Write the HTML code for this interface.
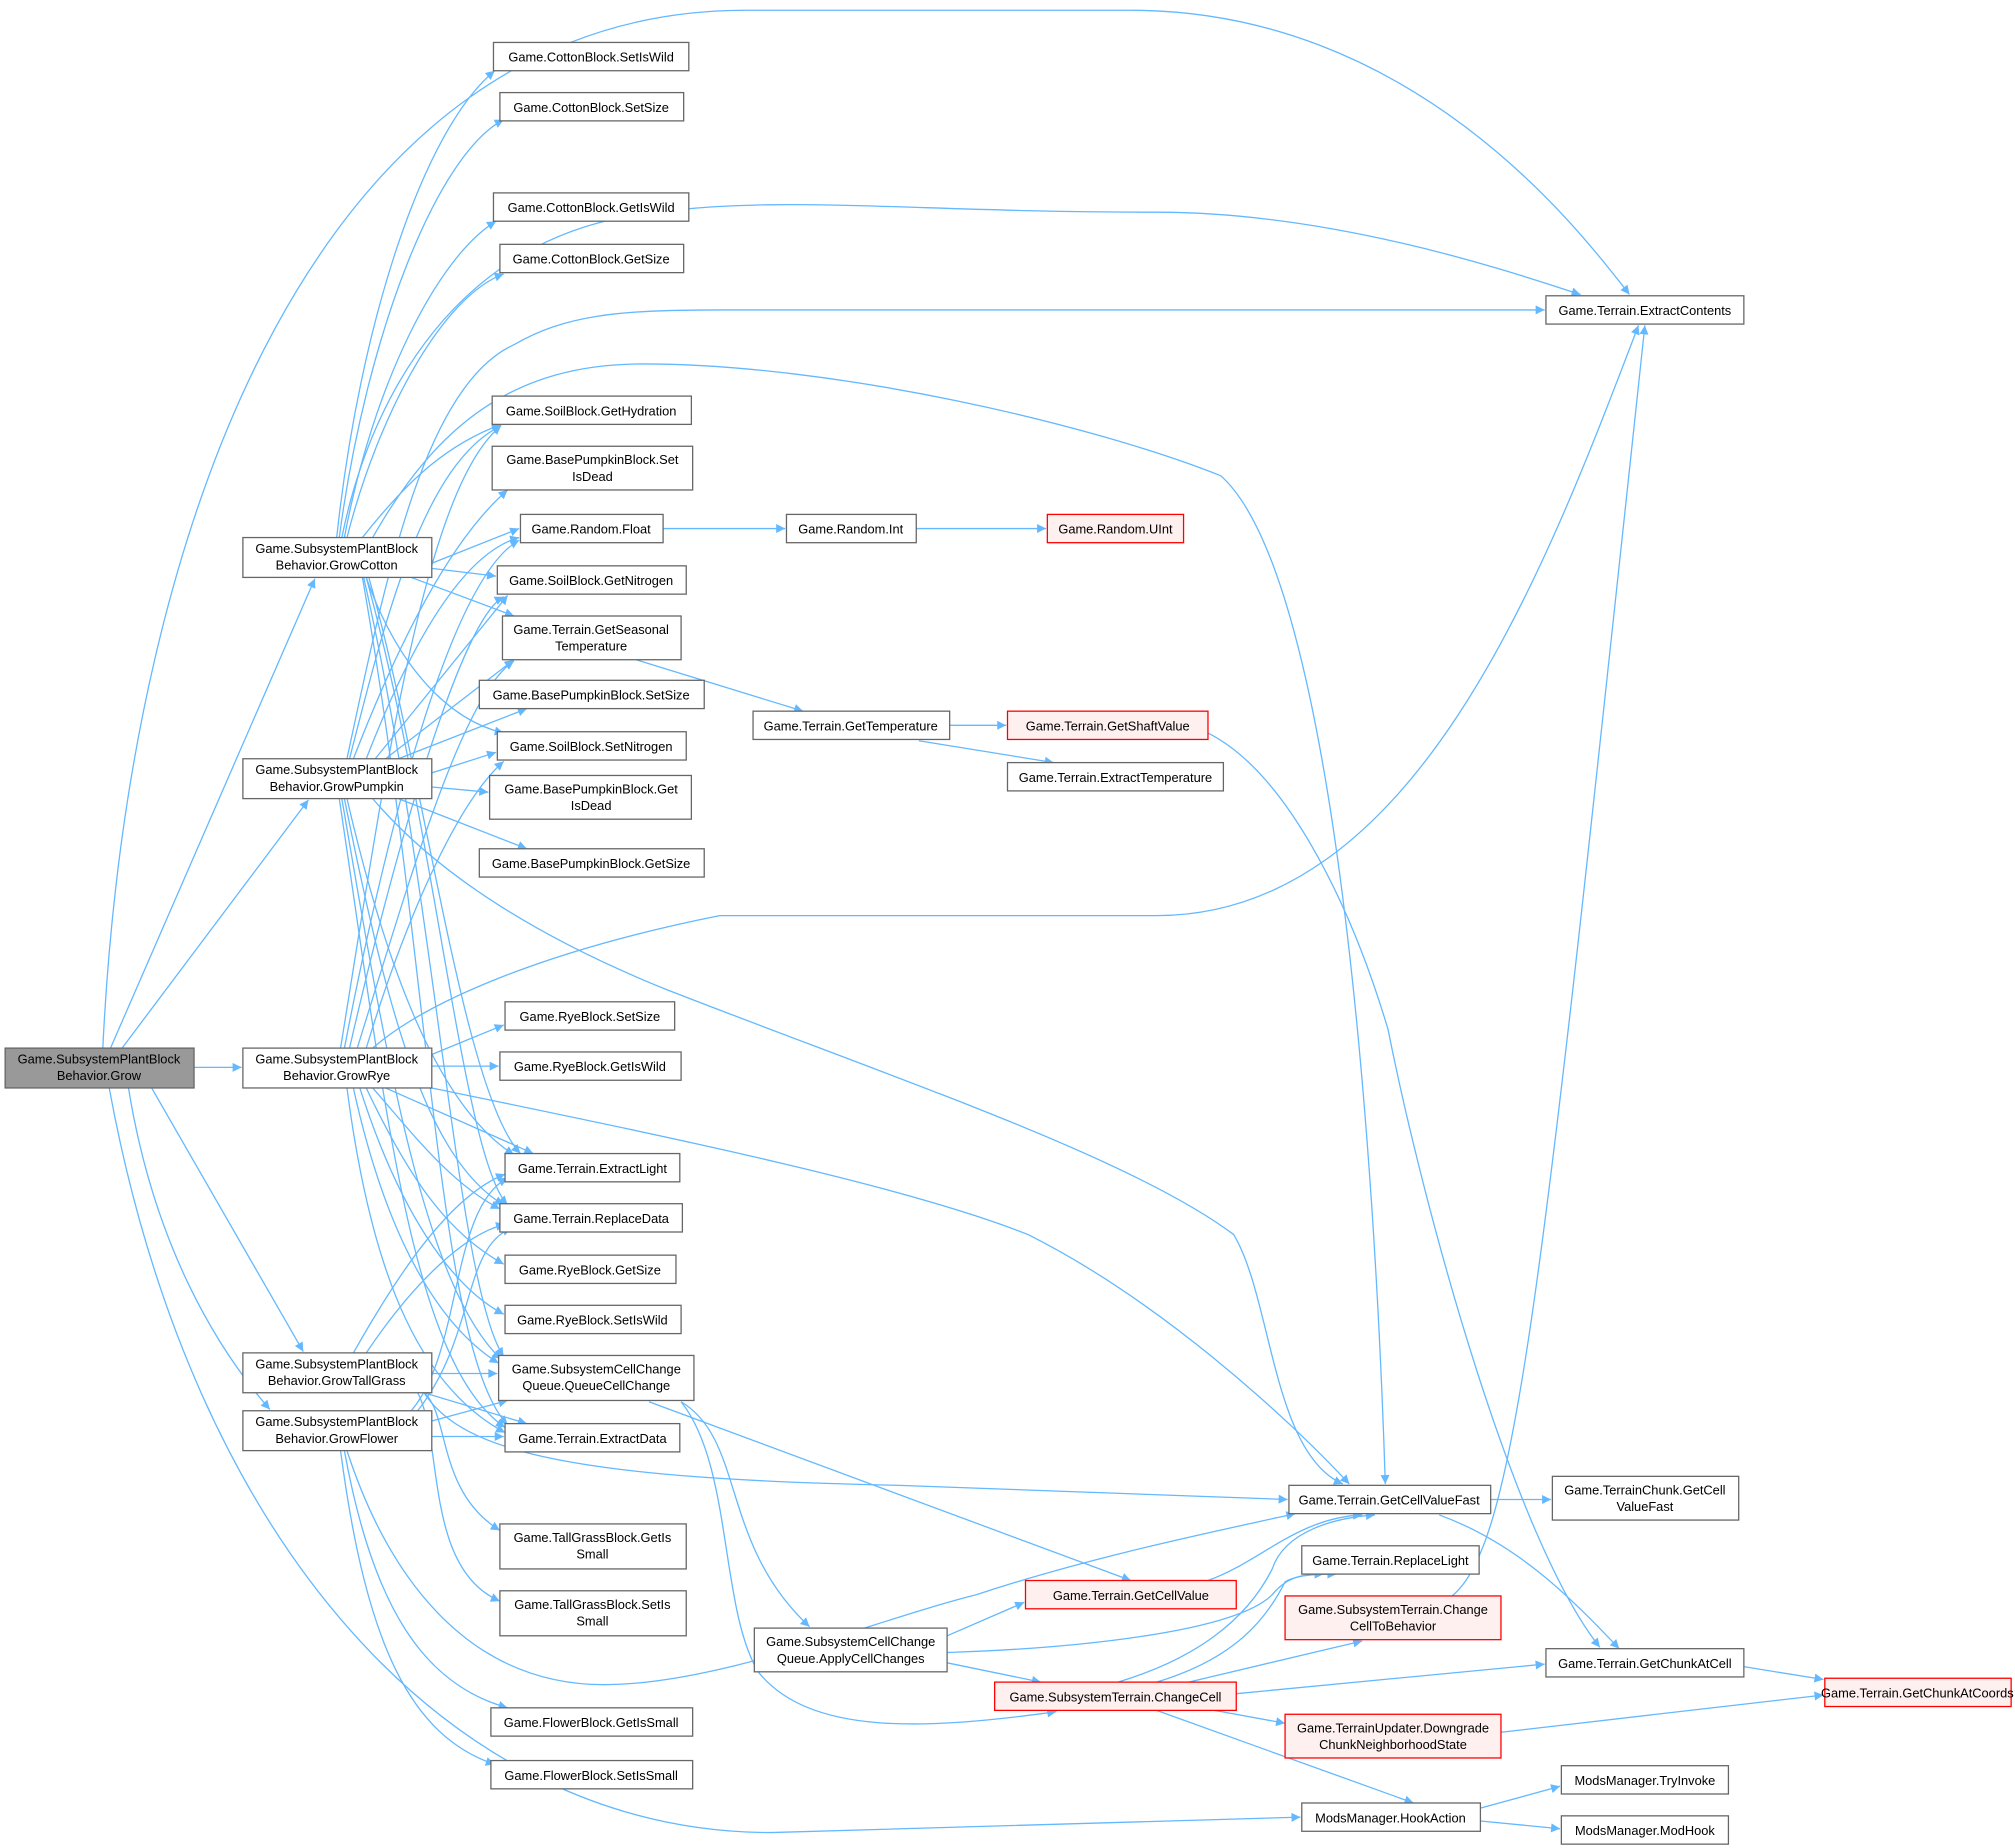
<!DOCTYPE html>
<html><head><meta charset="utf-8">
<style>
html,body{margin:0;padding:0;background:#fff;}
svg{display:block;}
text{font-family:"Liberation Sans",Arial,sans-serif;font-size:10px;fill:#000;text-anchor:middle;}
.e{fill:none;stroke:#63b8ff;stroke-width:1;marker-end:url(#a);}
.n{fill:#fff;stroke:#666;stroke-width:1;}
.r{fill:#fff0f0;stroke:#ff0000;stroke-width:1;}
.g{fill:#999;stroke:#666;stroke-width:1;}
</style></head><body>
<svg width="2015" height="1848" viewBox="0 0 1568 1437" preserveAspectRatio="none" xmlns="http://www.w3.org/2000/svg">
<defs><marker id="a" viewBox="0 0 10 10" refX="10" refY="5" markerWidth="10" markerHeight="7" markerUnits="userSpaceOnUse" orient="auto"><path d="M0,0 L10,5 L0,10 z" fill="#63b8ff"/></marker></defs>

<!-- edges from Grow -->
<path class="e" d="M80,815 C100,400 250,8 580,8 L880,8 C1100,8 1230,180 1268,229"/>
<path class="e" d="M86,815 L245,450"/>
<path class="e" d="M95,815 L240,622"/>
<path class="e" d="M151,830 L188,830"/>
<path class="e" d="M118,846 L236,1051"/>
<path class="e" d="M100,846 C120,970 170,1050 210,1096"/>
<path class="e" d="M85,846 C150,1200 350,1425 600,1425 L1012,1413"/>

<!-- GrowCotton -->
<path class="e" d="M262,418 C280,250 330,100 385,55"/>
<path class="e" d="M264,418 C285,260 340,120 392,93"/>
<path class="e" d="M266,418 C290,300 360,190 490,168 C600,150 700,165 900,165 C1050,165 1200,220 1230,229"/>
<path class="e" d="M268,418 C290,300 340,200 386,172"/>
<path class="e" d="M270,418 C295,320 345,230 392,213"/>
<path class="e" d="M282,418 C320,370 350,345 390,330"/>
<path class="e" d="M290,418 C340,330 400,283 500,283 C650,283 850,330 950,370 C1040,450 1070,900 1078,1154"/>
<path class="e" d="M336,438 L404,411"/>
<path class="e" d="M336,442 L386,448"/>
<path class="e" d="M320,449 L400,479"/>
<path class="e" d="M285,449 C310,520 350,560 392,570"/>
<path class="e" d="M287,449 C330,600 360,850 405,897"/>
<path class="e" d="M285,449 C340,650 360,900 395,937"/>
<path class="e" d="M283,449 C340,700 355,1000 392,1055"/>
<path class="e" d="M282,449 C335,750 340,1050 395,1108"/>

<!-- GrowPumpkin -->
<path class="e" d="M270,590 C300,450 330,300 400,268 C440,245 480,241 560,241 L1202,241"/>
<path class="e" d="M272,590 C300,480 330,360 390,331"/>
<path class="e" d="M275,590 C310,500 350,420 395,381"/>
<path class="e" d="M285,590 C320,500 360,430 404,418"/>
<path class="e" d="M292,590 L395,463"/>
<path class="e" d="M300,590 L400,513"/>
<path class="e" d="M310,590 L410,551"/>
<path class="e" d="M336,601 L386,585"/>
<path class="e" d="M336,612 L380,616"/>
<path class="e" d="M310,621 L410,660"/>
<path class="e" d="M290,621 C340,680 420,730 520,770 C700,840 880,900 960,960 C990,1010 990,1130 1045,1154"/>
<path class="e" d="M270,621 C300,750 340,860 400,898"/>
<path class="e" d="M268,621 C300,780 330,900 392,937"/>
<path class="e" d="M266,621 C300,820 330,1000 390,1057"/>
<path class="e" d="M264,621 C300,860 320,1060 393,1110"/>

<!-- GrowRye -->
<path class="e" d="M290,815 C330,780 420,740 560,712 L900,712 C1100,712 1200,450 1275,253"/>
<path class="e" d="M265,815 C300,600 330,380 390,331"/>
<path class="e" d="M268,815 C300,650 350,450 404,420"/>
<path class="e" d="M272,815 C310,650 360,480 392,464"/>
<path class="e" d="M278,815 C320,680 360,540 400,514"/>
<path class="e" d="M285,815 C320,700 360,620 392,592"/>
<path class="e" d="M336,820 L392,797"/>
<path class="e" d="M336,829 L388,829"/>
<path class="e" d="M300,846 L415,897"/>
<path class="e" d="M290,846 C320,880 350,920 389,940"/>
<path class="e" d="M285,846 C320,920 350,960 392,983"/>
<path class="e" d="M280,846 C310,940 350,1000 392,1022"/>
<path class="e" d="M275,846 C300,960 340,1030 388,1060"/>
<path class="e" d="M270,846 C290,1000 330,1080 393,1114"/>
<path class="e" d="M336,846 C500,880 700,920 800,960 C900,1010 1000,1100 1050,1154"/>

<!-- GrowTallGrass -->
<path class="e" d="M275,1052 C310,990 350,930 393,913"/>
<path class="e" d="M285,1052 C320,1000 360,960 393,952"/>
<path class="e" d="M336,1068 L387,1068"/>
<path class="e" d="M330,1083 L410,1107"/>
<path class="e" d="M330,1083 C350,1100 340,1160 389,1190"/>
<path class="e" d="M325,1083 C345,1120 330,1220 389,1245"/>
<path class="e" d="M330,1083 C360,1130 450,1150 700,1155 L1002,1166"/>

<!-- GrowFlower -->
<path class="e" d="M320,1097 C360,1050 350,940 395,916"/>
<path class="e" d="M325,1097 C370,1040 360,970 398,955"/>
<path class="e" d="M336,1105 L395,1089"/>
<path class="e" d="M336,1117 L392,1117"/>
<path class="e" d="M268,1128 C290,1250 330,1310 395,1328"/>
<path class="e" d="M265,1128 C285,1280 320,1350 385,1372"/>
<path class="e" d="M270,1128 C300,1220 360,1310 470,1310 C560,1310 680,1260 760,1240 C850,1210 950,1190 1008,1177"/>

<!-- right side -->
<path class="e" d="M516,411 L611,411"/>
<path class="e" d="M713,411 L814,411"/>
<path class="e" d="M495,513 L625,553"/>
<path class="e" d="M739,564 L783,564"/>
<path class="e" d="M715,576 L820,593"/>
<path class="e" d="M940,570 C1000,600 1050,700 1080,800 C1110,950 1180,1200 1245,1281"/>
<path class="e" d="M505,1090 L880,1229"/>
<path class="e" d="M530,1090 C580,1120 560,1200 630,1265"/>
<path class="e" d="M530,1090 C570,1140 560,1250 590,1300 C630,1350 720,1345 822,1331"/>
<path class="e" d="M737,1272 L797,1246"/>
<path class="e" d="M737,1285 C830,1282 960,1270 990,1240 C1000,1228 1010,1224 1030,1224"/>
<path class="e" d="M737,1293 L810,1308"/>
<path class="e" d="M940,1229 C980,1215 1010,1180 1060,1178"/>
<path class="e" d="M870,1308 C930,1290 970,1260 990,1220 C1000,1190 1040,1180 1070,1178"/>
<path class="e" d="M900,1308 C960,1290 985,1260 1000,1230 C1010,1224 1030,1224 1040,1224"/>
<path class="e" d="M925,1308 L1060,1276"/>
<path class="e" d="M962,1317 L1202,1294"/>
<path class="e" d="M945,1330 L1000,1340"/>
<path class="e" d="M900,1330 L1100,1402"/>
<path class="e" d="M1130,1241 C1180,1200 1200,1000 1280,253"/>
<path class="e" d="M1160,1166 L1207,1166"/>
<path class="e" d="M1120,1178 C1180,1200 1220,1240 1260,1282"/>
<path class="e" d="M1357,1296 L1419,1306"/>
<path class="e" d="M1168,1347 L1419,1318"/>
<path class="e" d="M1152,1406 L1214,1389"/>
<path class="e" d="M1152,1416 L1214,1422"/>

<!-- nodes -->
<rect class="g" x="4" y="815" width="147" height="31"/><text x="77" y="827">Game.SubsystemPlantBlock</text><text x="77" y="840">Behavior.Grow</text>
<rect class="n" x="189" y="418" width="147" height="31"/><text x="262" y="430">Game.SubsystemPlantBlock</text><text x="262" y="443">Behavior.GrowCotton</text>
<rect class="n" x="189" y="590" width="147" height="31"/><text x="262" y="602">Game.SubsystemPlantBlock</text><text x="262" y="615">Behavior.GrowPumpkin</text>
<rect class="n" x="189" y="815" width="147" height="31"/><text x="262" y="827">Game.SubsystemPlantBlock</text><text x="262" y="840">Behavior.GrowRye</text>
<rect class="n" x="189" y="1052" width="147" height="31"/><text x="262" y="1064">Game.SubsystemPlantBlock</text><text x="262" y="1077">Behavior.GrowTallGrass</text>
<rect class="n" x="189" y="1097" width="147" height="31"/><text x="262" y="1109">Game.SubsystemPlantBlock</text><text x="262" y="1122">Behavior.GrowFlower</text>

<rect class="n" x="384" y="33" width="152" height="22"/><text x="460" y="48">Game.CottonBlock.SetIsWild</text>
<rect class="n" x="389" y="72" width="143" height="22"/><text x="460" y="87">Game.CottonBlock.SetSize</text>
<rect class="n" x="384" y="150" width="152" height="22"/><text x="460" y="165">Game.CottonBlock.GetIsWild</text>
<rect class="n" x="389" y="190" width="143" height="22"/><text x="460" y="205">Game.CottonBlock.GetSize</text>
<rect class="n" x="383" y="308" width="155" height="22"/><text x="460" y="323">Game.SoilBlock.GetHydration</text>
<rect class="n" x="383" y="347" width="156" height="34"/><text x="461" y="361">Game.BasePumpkinBlock.Set</text><text x="461" y="374">IsDead</text>
<rect class="n" x="405" y="400" width="111" height="22"/><text x="460" y="415">Game.Random.Float</text>
<rect class="n" x="387" y="440" width="147" height="22"/><text x="460" y="455">Game.SoilBlock.GetNitrogen</text>
<rect class="n" x="391" y="479" width="139" height="34"/><text x="460" y="493">Game.Terrain.GetSeasonal</text><text x="460" y="506">Temperature</text>
<rect class="n" x="373" y="529" width="175" height="22"/><text x="460" y="544">Game.BasePumpkinBlock.SetSize</text>
<rect class="n" x="387" y="569" width="147" height="22"/><text x="460" y="584">Game.SoilBlock.SetNitrogen</text>
<rect class="n" x="381" y="603" width="157" height="34"/><text x="460" y="617">Game.BasePumpkinBlock.Get</text><text x="460" y="630">IsDead</text>
<rect class="n" x="373" y="660" width="175" height="22"/><text x="460" y="675">Game.BasePumpkinBlock.GetSize</text>
<rect class="n" x="393" y="779" width="132" height="22"/><text x="459" y="794">Game.RyeBlock.SetSize</text>
<rect class="n" x="389" y="818" width="141" height="22"/><text x="459" y="833">Game.RyeBlock.GetIsWild</text>
<rect class="n" x="393" y="897" width="136" height="22"/><text x="461" y="912">Game.Terrain.ExtractLight</text>
<rect class="n" x="389" y="936" width="142" height="22"/><text x="460" y="951">Game.Terrain.ReplaceData</text>
<rect class="n" x="393" y="976" width="133" height="22"/><text x="459" y="991">Game.RyeBlock.GetSize</text>
<rect class="n" x="393" y="1015" width="137" height="22"/><text x="461" y="1030">Game.RyeBlock.SetIsWild</text>
<rect class="n" x="388" y="1054" width="152" height="35"/><text x="464" y="1068">Game.SubsystemCellChange</text><text x="464" y="1081">Queue.QueueCellChange</text>
<rect class="n" x="393" y="1107" width="136" height="22"/><text x="461" y="1122">Game.Terrain.ExtractData</text>
<rect class="n" x="389" y="1185" width="145" height="35"/><text x="461" y="1199">Game.TallGrassBlock.GetIs</text><text x="461" y="1212">Small</text>
<rect class="n" x="389" y="1237" width="145" height="35"/><text x="461" y="1251">Game.TallGrassBlock.SetIs</text><text x="461" y="1264">Small</text>
<rect class="n" x="382" y="1328" width="157" height="22"/><text x="460" y="1343">Game.FlowerBlock.GetIsSmall</text>
<rect class="n" x="382" y="1369" width="157" height="22"/><text x="460" y="1384">Game.FlowerBlock.SetIsSmall</text>

<rect class="n" x="1203" y="230" width="154" height="22"/><text x="1280" y="245">Game.Terrain.ExtractContents</text>
<rect class="n" x="612" y="400" width="101" height="22"/><text x="662" y="415">Game.Random.Int</text>
<rect class="r" x="815" y="400" width="106" height="22"/><text x="868" y="415">Game.Random.UInt</text>
<rect class="n" x="586" y="553" width="153" height="22"/><text x="662" y="568">Game.Terrain.GetTemperature</text>
<rect class="r" x="784" y="553" width="156" height="22"/><text x="862" y="568">Game.Terrain.GetShaftValue</text>
<rect class="n" x="784" y="593" width="168" height="22"/><text x="868" y="608">Game.Terrain.ExtractTemperature</text>
<rect class="n" x="1003" y="1155" width="157" height="22"/><text x="1081" y="1170">Game.Terrain.GetCellValueFast</text>
<rect class="n" x="1208" y="1148" width="145" height="34"/><text x="1280" y="1162">Game.TerrainChunk.GetCell</text><text x="1280" y="1175">ValueFast</text>
<rect class="n" x="1013" y="1202" width="138" height="22"/><text x="1082" y="1217">Game.Terrain.ReplaceLight</text>
<rect class="r" x="798" y="1229" width="164" height="22"/><text x="880" y="1244">Game.Terrain.GetCellValue</text>
<rect class="r" x="1000" y="1241" width="168" height="34"/><text x="1084" y="1255">Game.SubsystemTerrain.Change</text><text x="1084" y="1268">CellToBehavior</text>
<rect class="n" x="1203" y="1282" width="154" height="22"/><text x="1280" y="1297">Game.Terrain.GetChunkAtCell</text>
<rect class="r" x="1420" y="1305" width="145" height="22"/><text x="1492" y="1320">Game.Terrain.GetChunkAtCoords</text>
<rect class="r" x="774" y="1308" width="188" height="22"/><text x="868" y="1323">Game.SubsystemTerrain.ChangeCell</text>
<rect class="r" x="1000" y="1333" width="168" height="34"/><text x="1084" y="1347">Game.TerrainUpdater.Downgrade</text><text x="1084" y="1360">ChunkNeighborhoodState</text>
<rect class="n" x="1013" y="1402" width="139" height="22"/><text x="1082" y="1417">ModsManager.HookAction</text>
<rect class="n" x="1215" y="1373" width="130" height="22"/><text x="1280" y="1388">ModsManager.TryInvoke</text>
<rect class="n" x="1215" y="1412" width="130" height="22"/><text x="1280" y="1427">ModsManager.ModHook</text>
<rect class="n" x="587" y="1266" width="150" height="34"/><text x="662" y="1280">Game.SubsystemCellChange</text><text x="662" y="1293">Queue.ApplyCellChanges</text>
</svg>
</body></html>
